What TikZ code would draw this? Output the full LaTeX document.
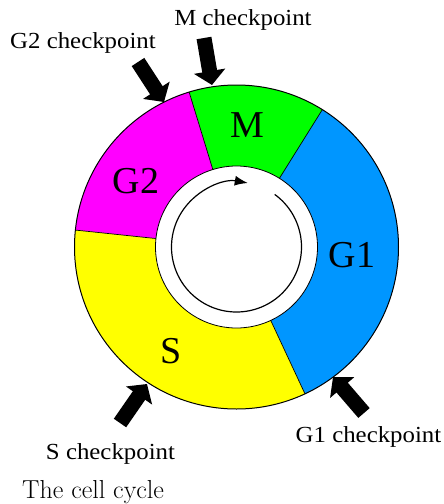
\documentclass[tikz,border=0pt]{standalone}
\usepackage{fontspec}
\newfontfamily\timesf{Liberation Serif}
\usetikzlibrary{arrows.meta}
\definecolor{phaseM}{RGB}{0,255,0}
\definecolor{phaseGtwo}{RGB}{255,0,255}
\definecolor{phaseS}{RGB}{255,255,0}
\definecolor{phaseGone}{RGB}{0,150,255}
\newcommand\widetext[1]{\scalebox{1.08}[1]{#1}}
\tikzset{
  phase/.style={font=\timesf\fontsize{38}{40}\selectfont, inner sep=0pt, anchor=base},
  cplabel/.style={font=\timesf\fontsize{23}{26}\selectfont, inner sep=0pt, anchor=base},
  blockarrow/.style={line width=15pt, -{Triangle[length=14pt,width=31pt]}},
  divider/.style={line width=0.7pt},
}
\begin{document}
\begin{tikzpicture}[x=1pt,y=-1pt]
\useasboundingbox (0,0) rectangle (444,504);
\coordinate (c) at (236.5,247);
% coloured phase sectors
\begin{scope}[shift={(c)}]
  \fill[phaseGone] (0,0) -- (-65:162pt) arc[start angle=-65,end angle=58,radius=162pt] -- cycle;
  \fill[phaseM]    (0,0) -- (58:162pt) arc[start angle=58,end angle=107,radius=162pt] -- cycle;
  \fill[phaseGtwo] (0,0) -- (107:162pt) arc[start angle=107,end angle=174,radius=162pt] -- cycle;
  \fill[phaseS]    (0,0) -- (174:162pt) arc[start angle=174,end angle=295,radius=162pt] -- cycle;
  \foreach \a in {58,107,174,-65}
    \draw[divider] (\a:80pt) -- (\a:162pt);
  \draw[line width=1pt] (0,0) circle[radius=162pt];
  \filldraw[fill=white, draw=black, line width=0.8pt] (0,0) circle[radius=81pt];
  % direction of the cycle
  \draw[line width=1.2pt, -{Latex[length=13pt,width=10pt]}]
    (54:65pt) arc[start angle=54,end angle=-280,radius=65pt];
\end{scope}
% phase names
\node[phase] (lm)  at (247,137) {M};
\node[phase] (lg2) at (136,193) {G2};
\node[phase] (lg1) at (352,267) {G1};
\node[phase] (ls)  at (171,363) {S};
% checkpoint labels
\node[cplabel] (cpm)  at (243,25)    {\widetext{M checkpoint}};
\node[cplabel] (cpg2) at (83,48)     {\widetext{G2 checkpoint}};
\node[cplabel] (cps)  at (110.5,459) {\widetext{S checkpoint}};
\node[cplabel] (cpg1) at (368.5,442) {\widetext{G1 checkpoint}};
% checkpoint arrows
\coordinate (mT) at (204,38);   \coordinate (mH) at (212,85);
\coordinate (g2T) at (138,62);  \coordinate (g2H) at (164,102);
\coordinate (sT) at (120,423);  \coordinate (sH) at (147,384);
\coordinate (g1T) at (364,413); \coordinate (g1H) at (333,377);
\draw[blockarrow] (mT) -- (mH);
\draw[blockarrow] (g2T) -- (g2H);
\draw[blockarrow] (sT) -- (sH);
\draw[blockarrow] (g1T) -- (g1H);
% caption
\node[inner sep=0pt, anchor=base west, font=\fontsize{26}{30}\selectfont] (cap) at (22,498) {The cell cycle};
\end{tikzpicture}
\end{document}
